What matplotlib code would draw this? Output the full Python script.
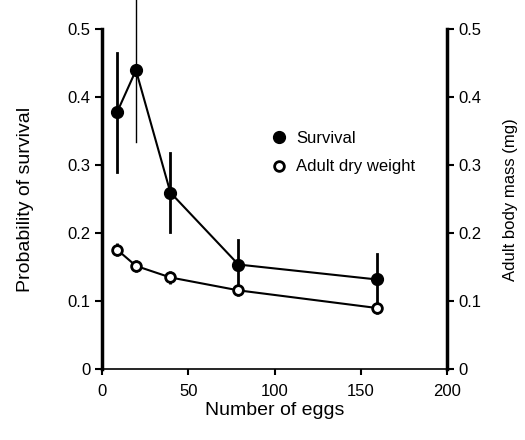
import matplotlib
matplotlib.use("Agg")
import matplotlib.pyplot as plt

plt.rcParams["font.family"] = ["Liberation Sans", "DejaVu Sans"]

# number of eggs per group
eggs = [8.5, 19.5, 39.5, 79, 159.5]

# probability of survival (left axis) and its error
survival = [0.378, 0.440, 0.260, 0.154, 0.132]
surv_err = [0.088, 0.105, 0.058, 0.036, 0.037]

# adult dry weight in mg (right axis) and its error
dry_wt = [0.176, 0.152, 0.135, 0.116, 0.090]
dry_err = [0.010, 0.009, 0.009, 0.009, 0.009]

fig = plt.figure(figsize=(5.25, 4.4), dpi=100)
ax = fig.add_axes([0.195, 0.161, 0.656, 0.772])
ax2 = ax.twinx()

# survival: error bars first, the second one is drawn thinner
for i in range(len(eggs)):
    lw = 1.0 if i == 1 else 2.0
    ax.plot([eggs[i], eggs[i]], [survival[i] - surv_err[i], survival[i] + surv_err[i]],
            color="black", lw=lw, clip_on=False, zorder=2)
ax.plot(eggs, survival, "-o", color="black", lw=1.5, ms=8.5, mfc="black",
        mec="black", clip_on=False, zorder=3, label="Survival")

ax2.errorbar(eggs, dry_wt, yerr=dry_err, fmt="none", ecolor="black", elinewidth=2.0,
             capsize=0, zorder=2)
ax2.plot(eggs, dry_wt, "-o", color="black", lw=1.5, ms=7, mfc="white", mec="black",
         mew=2.0, zorder=3, label="Adult dry weight")

for a in (ax, ax2):
    a.set_xlim(0, 200)
    a.set_ylim(0, 0.5)
    a.set_yticks([0, 0.1, 0.2, 0.3, 0.4, 0.5])
    a.set_yticklabels(["0", "0.1", "0.2", "0.3", "0.4", "0.5"])
    a.spines["top"].set_visible(False)
    a.tick_params(labelsize=12, length=5, width=1.5)

ax.spines["left"].set_linewidth(2.5)
ax.spines["bottom"].set_linewidth(1.2)
ax2.spines["right"].set_linewidth(2.5)
ax2.spines["left"].set_visible(False)
ax2.spines["bottom"].set_visible(False)
ax.spines["right"].set_visible(False)
ax.set_xticks([0, 50, 100, 150, 200])
ax.tick_params(axis="x", length=4, width=1.5, pad=7)

ax.set_xlabel("Number of eggs", fontsize=14, labelpad=2)
ax.set_ylabel("Probability of survival", fontsize=14, labelpad=24)
ax2.set_ylabel("Adult body mass (mg)", fontsize=12, labelpad=15)

h1, l1 = ax.get_legend_handles_labels()
h2, l2 = ax2.get_legend_handles_labels()
ax2.legend(h1 + h2, l1 + l2, loc="upper left", bbox_to_anchor=(0.47, 0.745),
           frameon=False, fontsize=12, handlelength=0, handletextpad=1.0,
           labelspacing=0.8)

fig.savefig("out.png", dpi=100)
